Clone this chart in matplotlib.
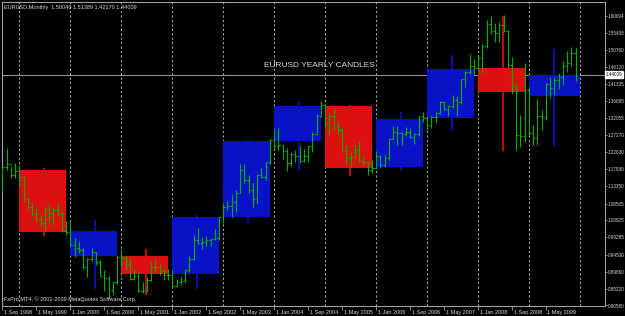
import numpy as np
import matplotlib
matplotlib.use("Agg")
import matplotlib.pyplot as plt
import matplotlib.transforms as mtransforms

# monthly EURUSD bars, Sep 1998 .. Dec 2009
opens = [1.120, 1.185, 1.195, 1.163,
         1.175, 1.158, 1.0985, 1.077, 1.0575, 1.043, 1.0335, 1.071, 1.0585, 1.0685, 1.056, 1.0095,
         1.007, 0.9725, 0.964, 0.957, 0.911, 0.9335, 0.953, 0.9245, 0.888, 0.8815, 0.848, 0.8695,
         0.9388, 0.936, 0.921, 0.879, 0.8875, 0.846, 0.849, 0.876, 0.9115, 0.911, 0.900, 0.8905,
         0.890, 0.8605, 0.870, 0.872, 0.902, 0.9335, 0.986, 0.9775, 0.981, 0.987, 0.9885, 0.992,
         1.0487, 1.0765, 1.079, 1.091, 1.115, 1.179, 1.150, 1.123, 1.0985, 1.164, 1.160, 1.199,
         1.2595, 1.244, 1.247, 1.230, 1.1975, 1.2205, 1.2175, 1.202, 1.2175, 1.243, 1.277, 1.3265,
         1.3555, 1.3035, 1.3255, 1.2965, 1.287, 1.2305, 1.210, 1.2125, 1.234, 1.2025, 1.199, 1.179,
         1.184, 1.2155, 1.1925, 1.212, 1.2625, 1.281, 1.279, 1.2765, 1.281, 1.2675, 1.276, 1.3255,
         1.3195, 1.301, 1.3225, 1.3355, 1.3655, 1.345, 1.354, 1.369, 1.364, 1.4265, 1.448, 1.463,
         1.459, 1.4865, 1.5185, 1.5785, 1.5605, 1.555, 1.5755, 1.5605, 1.4665, 1.408, 1.273, 1.270,
         1.397, 1.2805, 1.267, 1.325, 1.3245, 1.415, 1.4035, 1.425, 1.4335, 1.464, 1.472, 1.5004]
highs = [1.187, 1.239, 1.190, 1.198,
         1.1906, 1.162, 1.101, 1.088, 1.0725, 1.053, 1.0765, 1.0855, 1.074, 1.0875, 1.062, 1.039,
         1.0414, 0.990, 0.9835, 0.964, 0.935, 0.965, 0.9535, 0.930, 0.9035, 0.886, 0.871, 0.943,
         0.9595, 0.9425, 0.9365, 0.907, 0.895, 0.869, 0.883, 0.925, 0.933, 0.921, 0.907, 0.905,
         0.904, 0.878, 0.884, 0.904, 0.9405, 0.9995, 1.0195, 0.9935, 0.9975, 0.992, 1.015, 1.050,
         1.0875, 1.0935, 1.108, 1.123, 1.1935, 1.1935, 1.165, 1.143, 1.1665, 1.183, 1.201, 1.2635,
         1.290, 1.293, 1.247, 1.238, 1.227, 1.2325, 1.244, 1.2355, 1.2445, 1.2815, 1.3305, 1.3665,
         1.359, 1.3285, 1.348, 1.311, 1.294, 1.247, 1.2285, 1.248, 1.2585, 1.215, 1.202, 1.2045,
         1.229, 1.2185, 1.2185, 1.2645, 1.298, 1.2975, 1.282, 1.295, 1.2935, 1.2805, 1.326, 1.3365,
         1.3265, 1.3255, 1.3375, 1.368, 1.3685, 1.355, 1.385, 1.3805, 1.428, 1.4505, 1.4965, 1.483,
         1.4875, 1.524, 1.5905, 1.602, 1.5815, 1.5845, 1.6038, 1.5625, 1.487, 1.414, 1.329, 1.472,
         1.405, 1.302, 1.374, 1.344, 1.416, 1.434, 1.4325, 1.4445, 1.478, 1.506, 1.5145, 1.51389]
lows = [1.119, 1.179, 1.157, 1.157,
        1.133, 1.089, 1.0675, 1.053, 1.0345, 1.0235, 1.011, 1.035, 1.026, 1.052, 1.0065, 0.9985,
        0.970, 0.939, 0.949, 0.906, 0.8845, 0.929, 0.918, 0.886, 0.8445, 0.8228, 0.8385, 0.865,
        0.9105, 0.906, 0.875, 0.8755, 0.8425, 0.840, 0.842, 0.874, 0.899, 0.890, 0.876, 0.876,
        0.8575, 0.8565, 0.862, 0.870, 0.899, 0.930, 0.9735, 0.961, 0.9685, 0.969, 0.986, 0.986,
        1.0335, 1.069, 1.050, 1.062, 1.114, 1.141, 1.114, 1.0765, 1.0845, 1.155, 1.1505, 1.1955,
        1.2395, 1.234, 1.208, 1.176, 1.190, 1.199, 1.198, 1.200, 1.200, 1.226, 1.277, 1.323,
        1.2925, 1.2735, 1.287, 1.2765, 1.229, 1.195, 1.187, 1.2125, 1.199, 1.191, 1.164, 1.1705,
        1.180, 1.1825, 1.1865, 1.2065, 1.263, 1.2455, 1.2455, 1.271, 1.2645, 1.2485, 1.2725, 1.309,
        1.2865, 1.293, 1.308, 1.332, 1.3415, 1.3265, 1.348, 1.326, 1.358, 1.407, 1.4425, 1.4355,
        1.4525, 1.444, 1.5125, 1.5505, 1.5285, 1.5285, 1.5575, 1.458, 1.388, 1.233, 1.242, 1.2555,
        1.2735, 1.2455, 1.2455, 1.2885, 1.316, 1.3745, 1.3835, 1.4015, 1.4105, 1.447, 1.4625, 1.4217]
closes = [1.185, 1.195, 1.163, 1.175,
          1.158, 1.0985, 1.077, 1.0575, 1.043, 1.0335, 1.071, 1.0585, 1.0685, 1.056, 1.0095, 1.007,
          0.9725, 0.964, 0.957, 0.911, 0.9335, 0.953, 0.9245, 0.888, 0.8815, 0.848, 0.8695, 0.9388,
          0.936, 0.921, 0.879, 0.8875, 0.846, 0.849, 0.876, 0.9115, 0.911, 0.900, 0.8905, 0.890,
          0.8605, 0.870, 0.872, 0.902, 0.9335, 0.986, 0.9775, 0.981, 0.987, 0.9885, 0.992, 1.0487,
          1.0765, 1.079, 1.091, 1.115, 1.179, 1.150, 1.123, 1.0985, 1.164, 1.160, 1.199, 1.2595,
          1.244, 1.247, 1.230, 1.1975, 1.2205, 1.2175, 1.202, 1.2175, 1.243, 1.277, 1.3265, 1.3555,
          1.3035, 1.3255, 1.2965, 1.287, 1.2305, 1.210, 1.2125, 1.234, 1.2025, 1.199, 1.179, 1.184,
          1.2155, 1.1925, 1.212, 1.2625, 1.281, 1.279, 1.2765, 1.281, 1.2675, 1.276, 1.3255, 1.3195,
          1.301, 1.3225, 1.3355, 1.3655, 1.345, 1.354, 1.369, 1.364, 1.4265, 1.448, 1.463, 1.459,
          1.4865, 1.5185, 1.5785, 1.5605, 1.555, 1.5755, 1.5605, 1.4665, 1.408, 1.273, 1.270, 1.397,
          1.2805, 1.267, 1.325, 1.3245, 1.415, 1.4035, 1.425, 1.4335, 1.464, 1.472, 1.5004, 1.44009]

# yearly candles 1999..2009 (as drawn by the indicator)
years = list(range(1999, 2010))
y_open = [1.178, 1.0095, 0.943, 0.891, 1.048, 1.258, 1.354, 1.185, 1.321, 1.4575, 1.382]
y_close = [1.0087, 0.943, 0.891, 1.050, 1.258, 1.354, 1.183, 1.318, 1.456, 1.393, 1.439]
y_high = [1.184, 1.0416, 0.962, 1.055, 1.263, 1.365, 1.357, 1.337, 1.494, 1.6018, 1.510]
y_low = [0.998, 0.850, 0.836, 0.850, 1.031, 1.174, 1.162, 1.174, 1.284, 1.229, 1.2426]
y_color = ['#dc1010', '#0a12c8', '#dc1010', '#0a12c8', '#0a12c8', '#0a12c8',
           '#dc1010', '#0a12c8', '#0a12c8', '#dc1010', '#0a12c8']
y_span = [11, 11, 11, 11, 11, 11, 11, 11, 11, 11, 12]

xlabels = ['1 Sep 1998', '1 May 1999', '1 Jan 2000', '1 Sep 2000', '1 May 2001', '1 Jan 2002',
           '1 Sep 2002', '1 May 2003', '1 Jan 2004', '1 Sep 2004', '1 May 2005', '1 Jan 2006',
           '1 Sep 2006', '1 May 2007', '1 Jan 2008', '1 Sep 2008', '1 May 2009']
yticks = [1.60094, 1.55408, 1.50760, 1.46120, 1.41335, 1.36695, 1.32055, 1.27270, 1.22630,
          1.17990, 1.13350, 1.08565, 1.03925, 0.99285, 0.94500, 0.89860, 0.85220, 0.80580]
last_price = 1.44009

plt.rcParams['font.family'] = ['Liberation Sans', 'DejaVu Sans']
txt = '#d8d8d8'
grey = '#a0a0a0'

fig = plt.figure(figsize=(6.25, 3.16), dpi=100, facecolor='black')
ax = fig.add_axes([2 / 625, 10.5 / 316, 603 / 625, 303.5 / 316])
ax.set_facecolor('black')

x = np.arange(len(opens))
start = [4 + 12 * i for i in range(len(years))]

# year separators
for s in start + [start[-1] + 12]:
    ax.axvline(s, color='#a0a0a0', lw=0.8, ls=(0, (2, 2)), zorder=1)

ax.axhline(last_price, color='#909090', lw=0.8, zorder=2)

# yearly boxes + wicks
ax.bar(start, np.array(y_close) - np.array(y_open), bottom=y_open, width=y_span,
       align='edge', color=y_color, lw=0, zorder=3)
ax.vlines(np.array(start) + 5.8, y_low, y_high, colors=y_color, lw=1.2, zorder=4)

# monthly bars
g = '#00b000'
ax.vlines(x, lows, highs, colors=g, lw=0.8, zorder=5)
ax.hlines(opens, x - 0.4, x, colors=g, lw=0.8, zorder=5)
ax.hlines(closes, x, x + 0.4, colors=g, lw=0.8, zorder=5)

ax.set_xlim(-0.1, 141.9)
ax.set_ylim(0.8058, 1.6393)

ax.set_xticks(np.arange(0, 8 * len(xlabels), 8))
ax.set_xticklabels(xlabels)
ax.yaxis.tick_right()
ax.set_yticks(yticks)
ax.set_yticklabels([f'{v:.5f}' for v in yticks])
ax.tick_params(axis='x', length=3, width=0.6, color=grey, pad=0.5, labelsize=4, labelcolor=txt)
ax.tick_params(axis='y', length=1.5, width=0.6, color=grey, pad=0.6, labelsize=3.3, labelcolor=txt)
off = mtransforms.ScaledTranslation(1.5 / 100, 0, fig.dpi_scale_trans)
for lab in ax.get_xticklabels():
    lab.set_ha('left')
    lab.set_transform(lab.get_transform() + off)

for sp in ax.spines.values():
    sp.set_color(grey)
    sp.set_linewidth(0.8)

ax.text(1.0015, last_price, f'{last_price:.5f}', transform=ax.get_yaxis_transform(),
        ha='left', va='center', fontsize=3.3, color='black', clip_on=False,
        bbox=dict(facecolor='white', edgecolor='white', pad=0.5), zorder=10)

ax.text(0.527, 0.778, 'EURUSD YEARLY CANDLES', transform=ax.transAxes, ha='center',
        va='bottom', fontsize=6, color=txt, zorder=10)
ax.text(0.004, 0.99, 'EURUSD,Monthly  1.50040 1.51389 1.42170 1.44009', transform=ax.transAxes,
        ha='left', va='top', fontsize=4, color=txt, zorder=10)
ax.text(0.004, 0.012, 'FxPro MT4, \u00a9 2001-2009 MetaQuotes Software Corp.', transform=ax.transAxes,
        ha='left', va='bottom', fontsize=4, color=txt, zorder=10)

fig.savefig('out.png', dpi=100, facecolor='black')
